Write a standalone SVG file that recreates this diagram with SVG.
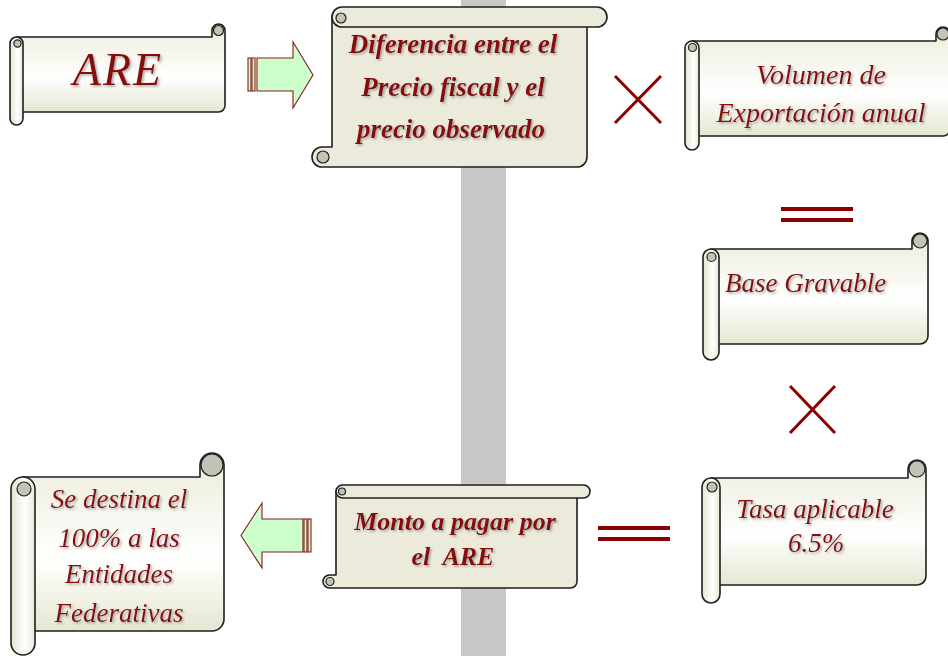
<svg xmlns="http://www.w3.org/2000/svg" width="948" height="656" viewBox="0 0 948 656">
<defs>
<linearGradient id="hg" x1="0" y1="0" x2="0" y2="1">
<stop offset="0" stop-color="#ecebda"/><stop offset="0.6" stop-color="#ffffff"/><stop offset="1" stop-color="#e6e6d2"/>
</linearGradient>
<linearGradient id="rg" x1="0" y1="0" x2="1" y2="0">
<stop offset="0" stop-color="#e4e4d0"/><stop offset="0.6" stop-color="#ffffff"/><stop offset="1" stop-color="#e8e8d6"/>
</linearGradient>
<filter id="sh" x="-10%" y="-20%" width="130%" height="150%">
<feDropShadow dx="1.6" dy="1.6" stdDeviation="0.8" flood-color="#888" flood-opacity="0.7"/>
</filter>
<style>
.sc{stroke:#1e1e1e;stroke-width:1.6;stroke-linejoin:round}
.hb{fill:url(#hg)}
.rl{fill:url(#rg)}
.vb{fill:#ecebdb}
.cu{fill:#c4c4b6;stroke:#1e1e1e;stroke-width:1.2}
.t{font-family:"Liberation Serif",serif;font-style:italic;fill:#870c0c;text-anchor:middle;filter:url(#sh)}
.s{text-anchor:start}
.b{font-weight:bold}
.ar{fill:#ccffcc;stroke:#8b1a1a;stroke-width:1.1}
.op{stroke:#8b0000;fill:none}
</style>
</defs>
<rect x="0" y="0" width="948" height="656" fill="#ffffff"/>
<rect x="461" y="0" width="45" height="656" fill="#c8c8c8"/>

<g id="connectors">
<g id="arrow-right">
<rect class="ar" x="248" y="58" width="3" height="33"/>
<rect class="ar" x="252" y="58" width="3" height="33"/>
<polygon class="ar" points="257,58 293,58 293,42 313,75 293,108 293,91 257,91"/>
</g>
<g id="arrow-left">
<rect class="ar" x="304" y="519" width="3" height="33"/>
<rect class="ar" x="308" y="519" width="3" height="33"/>
<polygon class="ar" points="303,519 262,519 262,503 241,535.5 262,568 262,552 303,552"/>
</g>
<g id="times-1" class="op" stroke-width="3">
<line x1="615" y1="76" x2="661" y2="123"/><line x1="661" y1="76" x2="615" y2="123"/>
</g>
<g id="times-2" class="op" stroke-width="3">
<line x1="790" y1="386" x2="835" y2="433"/><line x1="835" y1="386" x2="790" y2="433"/>
</g>
<g id="equals-1" class="op" stroke-width="4">
<line x1="781" y1="209" x2="853" y2="209"/><line x1="781" y1="220" x2="853" y2="220"/>
</g>
<g id="equals-2" class="op" stroke-width="4">
<line x1="598" y1="528" x2="670" y2="528"/><line x1="598" y1="539" x2="670" y2="539"/>
</g>
</g>

<g id="node-are">
<path class="sc hb" d="M16.5,37 H212 V30.5 A6.5 6.5 0 0 1 225 30.5 V105.5 A6.5 6.5 0 0 1 218.5 112 H16.5 Z"/>
<circle class="cu" cx="218.5" cy="30.5" r="5"/>
<rect class="sc rl" x="10" y="37" width="13" height="88" rx="6.5"/>
<circle class="cu" cx="17.5" cy="43.5" r="3.6"/>
<text class="t" x="118" y="85" font-size="46" letter-spacing="2">ARE</text>
</g>

<g id="node-diferencia">
<path class="sc vb" d="M332,17 H587 V157 A10 10 0 0 1 577 167 H322 A10 10 0 0 1 322 147 H332 Z"/>
<rect class="sc vb" x="332" y="7" width="275" height="20" rx="10"/>
<circle class="cu" cx="341" cy="18" r="5" fill="#dcdccc"/>
<circle class="cu" cx="323" cy="157" r="6"/>
<text class="t b" font-size="27"><tspan x="453" y="53">Diferencia entre el</tspan><tspan x="453" y="96">Precio fiscal y el</tspan><tspan x="451" y="138">precio observado</tspan></text>
</g>

<g id="node-volumen">
<path class="sc hb" d="M692,41 H936 V34 A7 7 0 0 1 950 34 V129 A7 7 0 0 1 943 136 H692 Z"/>
<circle class="cu" cx="943" cy="34" r="6"/>
<rect class="sc rl" x="685" y="41" width="14" height="109" rx="7"/>
<circle class="cu" cx="692.5" cy="47.5" r="4"/>
<text class="t" font-size="28"><tspan x="821" y="84">Volumen de</tspan><tspan x="821" y="122">Exportación anual</tspan></text>
</g>

<g id="node-base">
<path class="sc hb" d="M711,249 H912 V241 A8 8 0 0 1 928 241 V336 A8 8 0 0 1 920 344 H711 Z"/>
<circle class="cu" cx="920" cy="241" r="7"/>
<rect class="sc rl" x="703" y="249" width="16" height="111" rx="8"/>
<circle class="cu" cx="711.5" cy="257" r="4.5"/>
<text class="t s" x="725" y="292" font-size="27">Base Gravable</text>
</g>

<g id="node-tasa">
<path class="sc hb" d="M711,478 H908 V469 A9 9 0 0 1 926 469 V576 A9 9 0 0 1 917 585 H711 Z"/>
<circle class="cu" cx="917" cy="469" r="8"/>
<rect class="sc rl" x="702" y="478" width="18" height="125" rx="9"/>
<circle class="cu" cx="712" cy="487" r="5"/>
<text class="t" font-size="27"><tspan x="815" y="518">Tasa aplicable</tspan><tspan x="816" y="552">6.5%</tspan></text>
</g>

<g id="node-monto">
<path class="sc vb" d="M336,491.5 H577 V581.5 A6.5 6.5 0 0 1 570.5 588 H329.5 A6.5 6.5 0 0 1 329.5 575 H336 Z"/>
<rect class="sc vb" x="336" y="485" width="254" height="13" rx="6.5"/>
<circle class="cu" cx="342" cy="491.5" r="3.5" fill="#dcdccc"/>
<circle class="cu" cx="330" cy="581.5" r="4"/>
<text class="t b" font-size="26"><tspan x="455" y="530">Monto a pagar por</tspan><tspan x="453" y="565" xml:space="preserve">el  ARE</tspan></text>
</g>

<g id="node-destina">
<path class="sc hb" d="M23,477 H200 V465 A12 12 0 0 1 224 465 V619 A12 12 0 0 1 212 631 H23 Z"/>
<circle class="cu" cx="212" cy="465" r="11"/>
<rect class="sc rl" x="11" y="477" width="24" height="178" rx="12"/>
<circle class="cu" cx="24" cy="489" r="7"/>
<text class="t" font-size="27"><tspan x="119" y="508">Se destina el</tspan><tspan x="119" y="547">100% a las</tspan><tspan x="119" y="583">Entidades</tspan><tspan x="119" y="622">Federativas</tspan></text>
</g>
</svg>
